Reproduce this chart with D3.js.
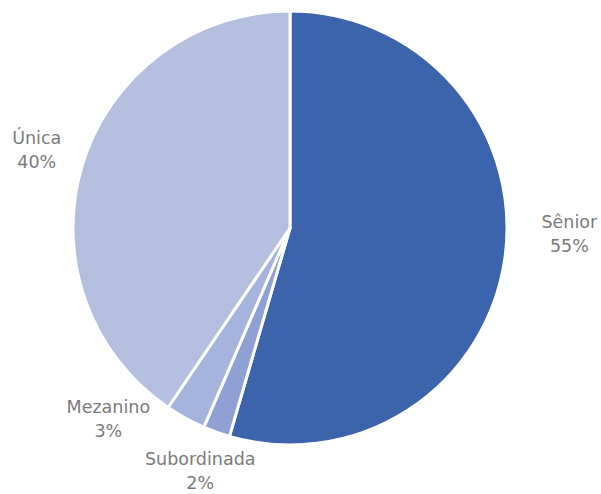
<!DOCTYPE html>
<html>
<head>
<meta charset="utf-8">
<script src="https://cdn.jsdelivr.net/npm/d3@7"></script>
<style>
  body { margin: 0; background: #fff; }
  text { font-family: "DejaVu Sans", sans-serif; font-size: 17.5px; fill: #7b7b7b; }
</style>
</head>
<body>
<svg></svg>
<script>
let categories = ["Sênior", "Subordinada", "Mezanino", "Única"];
let values = [54.5, 2.0, 3.0, 40.5];
let pctLabels = ["55%", "2%", "3%", "40%"];
let colors = ["#3c64ad", "#8fa1d4", "#a5b4dc", "#b4bedf"];

var svgWidth = 601, svgHeight = 494;
var cx = 290, cy = 228, radius = 217, labelRadius = 265;

// excel moves a couple labels off the centroid line
var nudge = { "Sênior": [17, -31], "Mezanino": [-54, -41], "Subordinada": [0, -6] };

var svg = d3.select("svg")
            .attr("width", svgWidth)
            .attr("height", svgHeight);

var g = svg.append("g").attr("transform", `translate(${cx},${cy})`);

var pie = d3.pie().sort(null).value(d => d.v);
var data = pie(categories.map((c, i) => ({ name: c, v: values[i], pct: pctLabels[i], color: colors[i] })));

var arc = d3.arc().innerRadius(0).outerRadius(radius);
var labelArc = d3.arc().innerRadius(labelRadius).outerRadius(labelRadius);

g.selectAll("path")
 .data(data)
 .enter()
 .append("path")
 .attr("d", arc)
 .attr("fill", d => d.data.color)
 .attr("stroke", "#fff")
 .attr("stroke-width", 3)
 .attr("stroke-linejoin", "round");

var labels = g.selectAll("g.lbl")
              .data(data)
              .enter()
              .append("g")
              .attr("class", "lbl")
              .attr("transform", d => {
                  let p = labelArc.centroid(d);
                  let n = nudge[d.data.name] || [0, 0];
                  return `translate(${p[0] + n[0]},${p[1] + n[1]})`;
              });

labels.append("text")
      .attr("text-anchor", "middle")
      .attr("dominant-baseline", "central")
      .attr("y", -12)
      .text(d => d.data.name);

labels.append("text")
      .attr("text-anchor", "middle")
      .attr("dominant-baseline", "central")
      .attr("y", 12)
      .text(d => d.data.pct);
</script>
</body>
</html>
